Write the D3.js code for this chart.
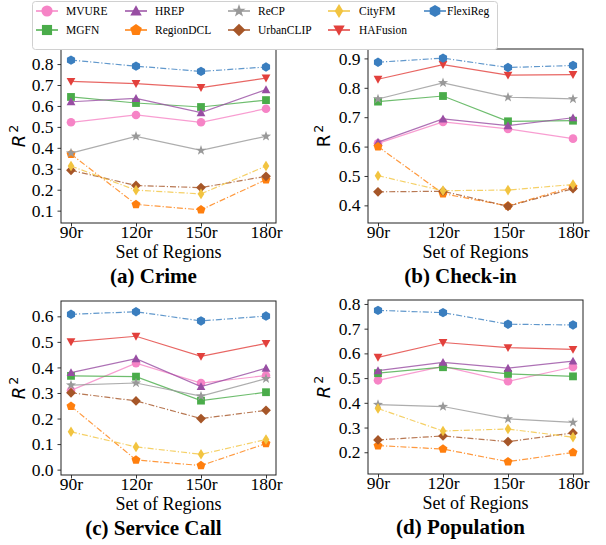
<!DOCTYPE html>
<html><head><meta charset="utf-8">
<script src="https://cdn.jsdelivr.net/npm/d3@7"></script>
<style>
body{margin:0;background:#fff;}
svg{display:block;}
</style></head>
<body><svg id="chart" width="606" height="545"></svg>
<script>
// ---------- data ----------
const regionSets = ["90r", "120r", "150r", "180r"];
const methods = ["MVURE", "MGFN", "HREP", "RegionDCL", "ReCP", "UrbanCLIP", "CityFM", "HAFusion", "FlexiReg"];
const methodColors = ["#f684c6", "#4aac4a", "#984ea3", "#ff7f0e", "#999999", "#a65628", "#f2c440", "#e2403c", "#3a7ebf"];
const methodMarkers = ["circle", "square", "triUp", "pentagon", "star", "diamond", "thinDiamond", "triDown", "hexagon"];
const methodDashed = [false, false, false, true, false, true, true, false, true];

const crimeValues = [
  [0.522, 0.557, 0.522, 0.587],
  [0.643, 0.614, 0.595, 0.628],
  [0.620, 0.636, 0.568, 0.678],
  [0.370, 0.130, 0.104, 0.248],
  [0.375, 0.455, 0.388, 0.455],
  [0.293, 0.220, 0.210, 0.264],
  [0.313, 0.198, 0.180, 0.313],
  [0.717, 0.707, 0.688, 0.733],
  [0.819, 0.790, 0.765, 0.786]
];
const checkinValues = [
  [0.611, 0.684, 0.660, 0.627],
  [0.753, 0.772, 0.686, 0.688],
  [0.615, 0.694, 0.671, 0.698],
  [0.600, 0.440, 0.398, 0.463],
  [0.762, 0.817, 0.768, 0.762],
  [0.446, 0.448, 0.397, 0.457],
  [0.501, 0.450, 0.452, 0.471],
  [0.829, 0.879, 0.843, 0.845],
  [0.887, 0.901, 0.869, 0.876]
];
const serviceCallValues = [
  [0.310, 0.417, 0.339, 0.368],
  [0.367, 0.364, 0.270, 0.303],
  [0.380, 0.434, 0.325, 0.397],
  [0.248, 0.038, 0.016, 0.102],
  [0.331, 0.339, 0.288, 0.356],
  [0.301, 0.269, 0.200, 0.232],
  [0.148, 0.089, 0.060, 0.118],
  [0.500, 0.522, 0.443, 0.494],
  [0.608, 0.618, 0.582, 0.601]
];
const populationValues = [
  [0.491, 0.547, 0.487, 0.545],
  [0.520, 0.544, 0.517, 0.507],
  [0.530, 0.564, 0.540, 0.569],
  [0.227, 0.213, 0.162, 0.199],
  [0.393, 0.385, 0.335, 0.321],
  [0.250, 0.266, 0.243, 0.278],
  [0.377, 0.286, 0.294, 0.261],
  [0.584, 0.644, 0.623, 0.616],
  [0.774, 0.765, 0.718, 0.715]
];
const crimeTicks = [0.1, 0.2, 0.3, 0.4, 0.5, 0.6, 0.7, 0.8];
const checkinTicks = [0.4, 0.5, 0.6, 0.7, 0.8, 0.9];
const serviceCallTicks = [0.0, 0.1, 0.2, 0.3, 0.4, 0.5, 0.6];
const populationTicks = [0.2, 0.3, 0.4, 0.5, 0.6, 0.7, 0.8];
const panelTitles = ["(a) Crime", "(b) Check-in", "(c) Service Call", "(d) Population"];
const xAxisLabel = "Set of Regions";

// ---------- marker paths ----------
function poly(pts){ return "M" + pts.map(p => p[0].toFixed(2) + "," + p[1].toFixed(2)).join("L") + "Z"; }
function regular(n, r, rot){
  const pts = [];
  for (let k = 0; k < n; k++){ const a = rot + 2*Math.PI*k/n; pts.push([r*Math.sin(a), -r*Math.cos(a)]); }
  return poly(pts);
}
function markerPath(kind, s){
  switch(kind){
    case "circle": return d3.symbol(d3.symbolCircle, Math.PI*Math.pow(4.3*s,2))();
    case "square": { const h = 3.9*s; return poly([[-h,-h],[h,-h],[h,h],[-h,h]]); }
    case "triUp": { const r = 4.4*s; return poly([[0,-r],[r,r*0.8],[-r,r*0.8]]); }
    case "triDown": { const r = 4.4*s; return poly([[0,r],[r,-r*0.8],[-r,-r*0.8]]); }
    case "pentagon": return regular(5, 4.7*s, 0);
    case "hexagon": return regular(6, 4.7*s, 0);
    case "star": {
      const pts = [];
      for (let k = 0; k < 10; k++){ const r = (k%2===0 ? 5.3 : 2.1)*s; const a = Math.PI*k/5; pts.push([r*Math.sin(a), -r*Math.cos(a)]); }
      return poly(pts);
    }
    case "diamond": { const r = 4.9*s; return poly([[0,-r],[r,0],[0,r],[-r,0]]); }
    case "thinDiamond": { const h = 5.3*s, w = 3.3*s; return poly([[0,-h],[w,0],[0,h],[-w,0]]); }
  }
}

// ---------- layout ----------
const svg = d3.select("#chart");
const serif = "'Liberation Serif', 'Times New Roman', serif";
const panels = [
  {values: crimeValues, ticks: crimeTicks, domain: [0.041, 0.872], l: 61, r: 276, t: 49, b: 223, italic: true, ylx: 25},
  {values: checkinValues, ticks: checkinTicks, domain: [0.340, 0.932], l: 368, r: 583, t: 49, b: 223, italic: false, ylx: 330},
  {values: serviceCallValues, ticks: serviceCallTicks, domain: [-0.021, 0.660], l: 61, r: 276, t: 301, b: 475, italic: true, ylx: 25},
  {values: populationValues, ticks: populationTicks, domain: [0.112, 0.816], l: 368, r: 583, t: 300, b: 474, italic: true, ylx: 330}
];

panels.forEach((p, pi) => {
  const g = svg.append("g");
  const x = d3.scalePoint().domain(regionSets).range([p.l + 10, p.r - 10]);
  const y = d3.scaleLinear().domain(p.domain).range([p.b, p.t]);

  // axes
  const xa = g.append("g").attr("transform", `translate(0,${p.b})`)
    .call(d3.axisBottom(x).tickSize(3.5).tickPadding(0).tickSizeOuter(0));
  xa.select(".domain").remove();
  xa.selectAll("text").attr("font-family", serif).attr("font-size", 17.5).attr("fill", "#000").attr("dy", "0.64em");
  xa.selectAll("line").attr("stroke", "#000").attr("stroke-width", 0.8);

  const ya = g.append("g").attr("transform", `translate(${p.l},0)`)
    .call(d3.axisLeft(y).tickValues(p.ticks).tickFormat(d3.format(".1f")).tickSize(3.5).tickPadding(4).tickSizeOuter(0));
  ya.select(".domain").remove();
  ya.selectAll("text").attr("font-family", serif).attr("font-size", 17.5).attr("fill", "#000");
  ya.selectAll("line").attr("stroke", "#000").attr("stroke-width", 0.8);

  // series
  const line = d3.line().x((d, i) => x(regionSets[i])).y(d => y(d));
  methods.forEach((m, mi) => {
    const vals = p.values[mi];
    g.append("path").datum(vals).attr("d", line)
      .attr("fill", "none").attr("stroke", methodColors[mi]).attr("stroke-width", 1.2)
      .attr("stroke-opacity", 0.8)
      .attr("stroke-dasharray", methodDashed[mi] ? "6,2,1.2,2" : null);
    g.selectAll(null).data(vals).enter().append("path")
      .attr("d", markerPath(methodMarkers[mi], 1))
      .attr("transform", (d, i) => `translate(${x(regionSets[i])},${y(d)})`)
      .attr("fill", methodColors[mi]);
  });

  // frame
  g.append("rect").attr("x", p.l).attr("y", p.t).attr("width", p.r - p.l).attr("height", p.b - p.t)
    .attr("fill", "none").attr("stroke", "#222").attr("stroke-width", 1);

  // y label R^2
  const yl = g.append("text").attr("transform", `translate(${p.ylx},${(p.t + p.b)/2}) rotate(-90)`)
    .attr("text-anchor", "middle").attr("font-family", "'DejaVu Sans', sans-serif").attr("font-size", 18).attr("fill", "#000");
  yl.append("tspan").text("R").attr("font-style", p.italic ? "italic" : "normal");
  yl.append("tspan").text("2").attr("font-size", 12.5).attr("dy", -7).attr("dx", 2);

  // x label
  g.append("text").attr("x", (p.l + p.r)/2).attr("y", p.b + 35).attr("text-anchor", "middle")
    .attr("font-family", serif).attr("font-size", 18).attr("fill", "#000").text(xAxisLabel);

  // title
  g.append("text").attr("x", (p.l + p.r)/2 - 15).attr("y", p.b + 60).attr("text-anchor", "middle")
    .attr("font-family", serif).attr("font-weight", "bold").attr("font-size", 21).attr("fill", "#000").text(panelTitles[pi]);
});

// ---------- legend ----------
const lg = svg.append("g");
lg.append("rect").attr("x", 32.5).attr("y", 1.5).attr("width", 465).attr("height", 48).attr("rx", 3)
  .attr("fill", "#fff").attr("stroke", "#d0d0d0").attr("stroke-width", 1);
const legMarkerX = [47, 136, 239, 339, 435];
const legTextX = [66, 155, 258, 359, 447];
const legRowY = [11, 30];
methods.forEach((m, mi) => {
  const col = Math.floor(mi / 2), row = mi % 2;
  const cx = legMarkerX[col], cy = legRowY[row];
  lg.append("line").attr("x1", cx - 11).attr("x2", cx + 11).attr("y1", cy).attr("y2", cy)
    .attr("stroke", methodColors[mi]).attr("stroke-width", 1.5);
  lg.append("path").attr("d", markerPath(methodMarkers[mi], 1.3)).attr("transform", `translate(${cx},${cy})`)
    .attr("fill", methodColors[mi]);
  lg.append("text").attr("x", legTextX[col]).attr("y", cy + 4).attr("font-family", serif).attr("font-size", 11.5)
    .attr("fill", "#000").text(m);
});
</script>
</body></html>
